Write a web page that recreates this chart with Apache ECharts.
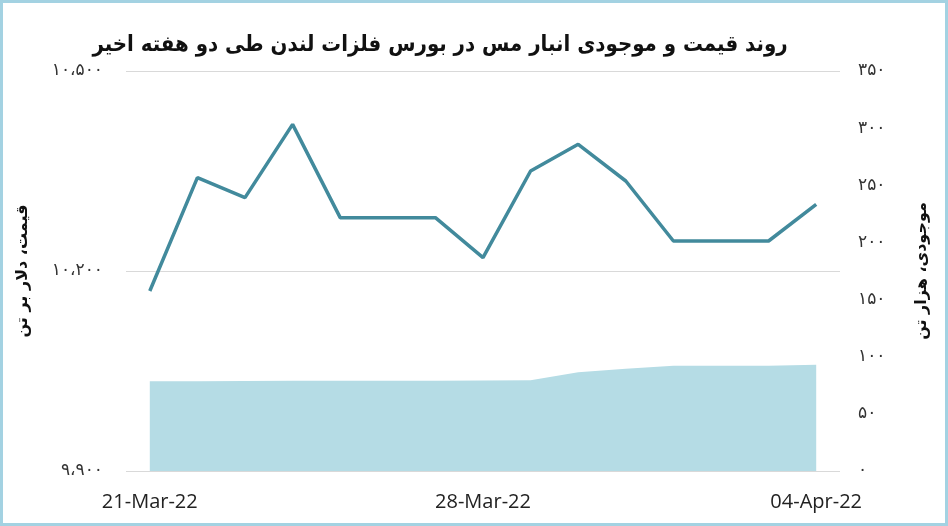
<!DOCTYPE html>
<html>
<head>
<meta charset="utf-8">
<script src="https://cdn.jsdelivr.net/npm/echarts@6/dist/echarts.min.js"></script>
<style>
  html, body { margin: 0; padding: 0; background: #fff; }
  #chart { width: 948px; height: 526px; }
</style>
</head>
<body>
<div id="chart"></div>
<script>
const dates = [
  "21-Mar-22", "22-Mar-22", "23-Mar-22", "24-Mar-22", "25-Mar-22",
  "26-Mar-22", "27-Mar-22", "28-Mar-22", "29-Mar-22", "30-Mar-22",
  "31-Mar-22", "01-Apr-22", "02-Apr-22", "03-Apr-22", "04-Apr-22"
];
// price, USD per tonne (left axis)
const price = [10170, 10340, 10310, 10420, 10280, 10280, 10280, 10220,
  10350, 10390, 10335, 10245, 10245, 10245, 10300];
// stocks, thousand tonnes (right axis)
const stock = [78.5, 78.5, 78.7, 79, 79, 79, 79, 79.2, 79.5, 86.5, 89.5,
  92, 92, 92.2, 93];

const titleText = "روند قیمت و موجودی انبار مس در بورس فلزات لندن طی دو هفته اخیر";
const leftName = "قیمت، دلار بر تن";
const rightName = "موجودی، هزار تن";

const faDigits = "۰۱۲۳۴۵۶۷۸۹";
function toFa(n) {
  let s = String(n).replace(/\B(?=(\d{3})+(?!\d))/g, "،");
  return s.replace(/\d/g, d => faDigits[+d]);
}

const chart = echarts.init(document.getElementById("chart"));
chart.setOption({
  animation: false,
  title: {
    text: titleText,
    left: 435,
    textAlign: "center",
    top: 29,
    textStyle: { fontFamily: "DejaVu Sans Condensed", fontWeight: "bold", fontSize: 22, color: "#111" }
  },
  graphic: [{
    type: "rect",
    shape: { x: 1.5, y: 1.5, width: 945, height: 523 },
    style: { fill: "none", stroke: "#a3d2e2", lineWidth: 3 },
    z: 100
  }],
  grid: { left: 126, right: 108, top: 71, bottom: 55 },
  xAxis: {
    type: "category",
    data: dates,
    boundaryGap: true,
    axisLine: { show: false },
    axisTick: { show: false },
    axisLabel: { interval: 6, margin: 21, fontSize: 20, color: "#222", fontFamily: "Open Sans" }
  },
  yAxis: [{
    type: "value",
    min: 9900, max: 10500, interval: 300,
    name: leftName,
    nameLocation: "middle",
    nameRotate: 90,
    nameGap: 95,
    nameTextStyle: { fontFamily: "DejaVu Sans", fontSize: 16, fontWeight: "bold", color: "#111" },
    axisLine: { show: false },
    axisTick: { show: false },
    axisLabel: { margin: 23, fontSize: 17, color: "#333", fontFamily: "DejaVu Sans", formatter: v => toFa(v) },
    splitLine: { lineStyle: { color: "#d9d9d9", width: 1 } }
  }, {
    type: "value",
    min: 0, max: 350, interval: 50,
    name: rightName,
    nameLocation: "middle",
    nameRotate: 90,
    nameGap: 74,
    nameTextStyle: { fontFamily: "DejaVu Sans", fontSize: 16, fontWeight: "bold", color: "#111" },
    axisLine: { show: false },
    axisTick: { show: false },
    axisLabel: { margin: 18, fontSize: 17, color: "#333", fontFamily: "DejaVu Sans", formatter: v => toFa(v) },
    splitLine: { show: false }
  }],
  series: [{
    name: "stock",
    type: "line",
    yAxisIndex: 1,
    data: stock,
    showSymbol: false,
    lineStyle: { width: 0 },
    areaStyle: { color: "#b5dce5", opacity: 1 },
    z: 1
  }, {
    name: "price",
    type: "line",
    yAxisIndex: 0,
    data: price,
    showSymbol: false,
    lineStyle: { width: 3.5, color: "#428a9c" },
    z: 2
  }]
});
</script>
</body>
</html>
